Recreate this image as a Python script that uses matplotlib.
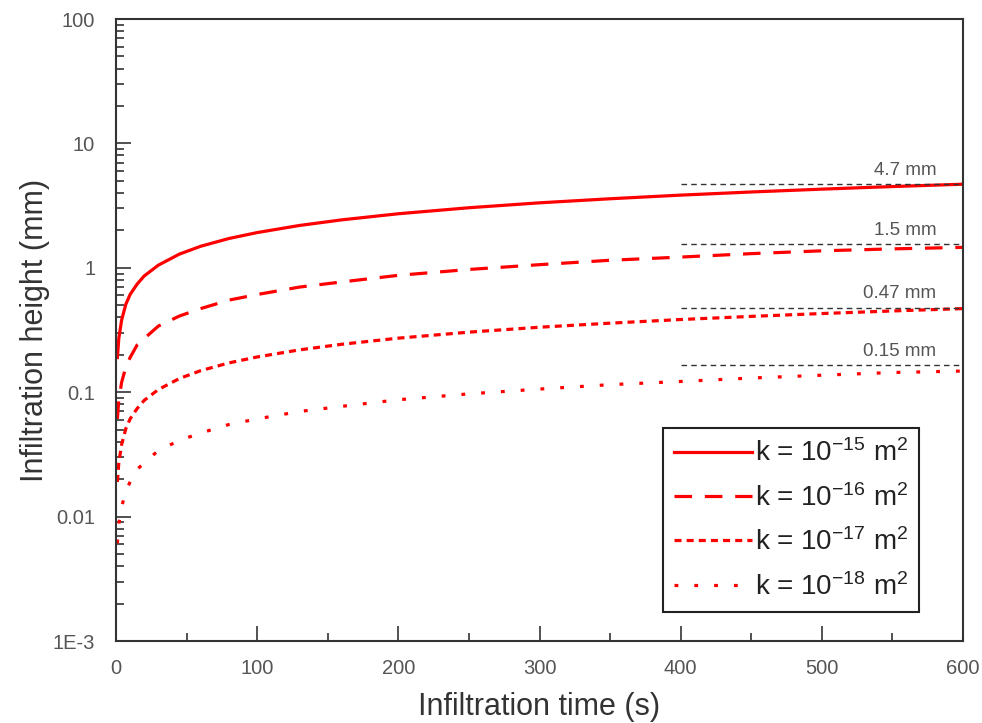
import matplotlib.pyplot as plt
import matplotlib.ticker as ticker
import numpy as np

plt.rcParams['font.family'] = ['Liberation Sans', 'DejaVu Sans']
plt.rcParams['mathtext.default'] = 'regular'

# infiltration time (s) and heights (mm)
time_s = [1, 2, 4, 7, 10, 15, 20, 30, 45, 60, 80, 100, 130, 160, 200,
          250, 300, 350, 400, 450, 500, 550, 600]
h_k15 = [0.19, 0.27, 0.38, 0.51, 0.61, 0.74, 0.86, 1.05, 1.29, 1.49, 1.72, 1.92,
         2.19, 2.43, 2.72, 3.04, 3.33, 3.59, 3.84, 4.07, 4.29, 4.50, 4.70]
h_k16 = [0.061, 0.087, 0.12, 0.16, 0.19, 0.24, 0.27, 0.34, 0.41, 0.47, 0.55, 0.61,
         0.70, 0.77, 0.87, 0.97, 1.06, 1.15, 1.22, 1.30, 1.37, 1.42, 1.46]
h_k17 = [0.019, 0.027, 0.038, 0.051, 0.061, 0.074, 0.086, 0.105, 0.129, 0.149, 0.172,
         0.192, 0.219, 0.243, 0.272, 0.304, 0.333, 0.359, 0.384, 0.407, 0.429, 0.450, 0.470]
h_k18 = [0.0061, 0.0087, 0.012, 0.016, 0.019, 0.024, 0.027, 0.034, 0.041, 0.047, 0.055,
         0.061, 0.070, 0.077, 0.087, 0.097, 0.106, 0.115, 0.122, 0.130, 0.137, 0.144, 0.148]
series_labels = [r'k = 10$^{-15}$ m$^2$', r'k = 10$^{-16}$ m$^2$',
                 r'k = 10$^{-17}$ m$^2$', r'k = 10$^{-18}$ m$^2$']

# final-height guide lines
ref_levels = [4.7, 1.55, 0.475, 0.165]
ref_texts = ['4.7 mm', '1.5 mm', '0.47 mm', '0.15 mm']
ref_start, ref_end = 400, 600

fig = plt.figure(figsize=(9.82, 7.23), dpi=100)
ax = fig.add_axes([0.1181, 0.1134, 0.8626, 0.8603])

styles = ['-', (0, (5.5, 4)), (0, (2.2, 1.6)), (0, (1.2, 5))]
for h, st, lab in zip([h_k15, h_k16, h_k17, h_k18], styles, series_labels):
    ax.plot(time_s, h, color='red', lw=2.3, linestyle=st, label=lab)

for lev, txt in zip(ref_levels, ref_texts):
    ax.plot([ref_start, ref_end], [lev, lev], color='#333333', lw=1.0,
            linestyle=(0, (4, 3)))
    ax.annotate(txt, xy=(581, lev), xytext=(0, 4), textcoords='offset points',
                ha='right', va='bottom', fontsize=13.5, color='#555555')

ax.set_yscale('log')
ax.set_xlim(0, 600)
ax.set_ylim(1e-3, 100)

ax.xaxis.set_major_locator(ticker.MultipleLocator(100))
ax.xaxis.set_minor_locator(ticker.MultipleLocator(50))
ax.yaxis.set_major_locator(ticker.FixedLocator([1e-3, 1e-2, 0.1, 1, 10, 100]))
ax.yaxis.set_major_formatter(ticker.FixedFormatter(['1E-3', '0.01', '0.1', '1', '10', '100']))
ax.yaxis.set_minor_locator(ticker.LogLocator(base=10, subs=np.arange(2, 10)))
ax.yaxis.set_minor_formatter(ticker.NullFormatter())

ax.tick_params(which='both', direction='in', top=False, right=False,
               colors='#333333', labelcolor='#555555', width=1.2)
ax.tick_params(which='major', length=11, labelsize=14.5)
ax.tick_params(axis='y', which='major', pad=15)
ax.tick_params(axis='x', which='major', pad=13)
ax.tick_params(which='minor', length=6)
for s in ax.spines.values():
    s.set_color('#333333')
    s.set_linewidth(1.5)

ax.set_xlabel('Infiltration time (s)', fontsize=22, color='#333333', labelpad=10)
ax.set_ylabel('Infiltration height (mm)', fontsize=22, color='#333333', labelpad=2)

leg = ax.legend(loc='lower right', bbox_to_anchor=(0.948, 0.047), borderaxespad=0,
                fontsize=20, handlelength=2.8, handletextpad=0.1, fancybox=False,
                edgecolor='#222222', framealpha=1, borderpad=0.4, labelspacing=0.6)
leg.get_frame().set_linewidth(1.5)
for t in leg.get_texts():
    t.set_color('#222222')

fig.savefig('out.png', dpi=100)
